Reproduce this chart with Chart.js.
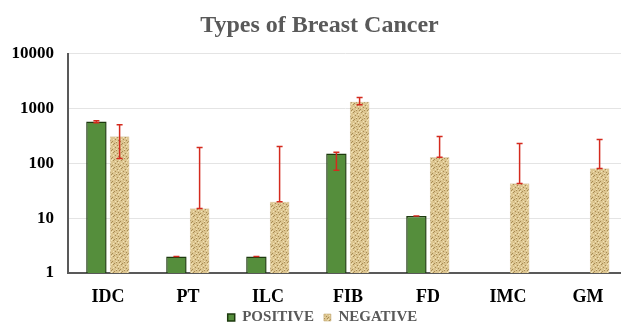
<!DOCTYPE html>
<html>
<head>
<meta charset="utf-8">
<script src="https://cdn.jsdelivr.net/npm/chart.js@4"></script>
<style>
  html, body { margin: 0; padding: 0; background: #fff; }
  #wrap { width: 621px; height: 324px; }
</style>
</head>
<body>
<div id="wrap"><canvas id="chart" width="621" height="324"></canvas></div>
<script>
// Data
const categories = ['IDC', 'PT', 'ILC', 'FIB', 'FD', 'IMC', 'GM'];
const positive = [580, 2, 2, 152, 11, null, null];
const positiveLow = [550, 2, 2, 75, 11, null, null];
const positiveHigh = [600, 2, 2, 160, 11, null, null];
const negative = [310, 15, 20, 1340, 129, 43, 81];
const negativeLow = [123, 15, 20, 1180, 129, 43, 81];
const negativeHigh = [510, 195, 204, 1590, 310, 230, 274];
const yTicks = [1, 10, 100, 1000, 10000];

const serif = '"Liberation Serif", "DejaVu Serif", serif';

// tan speckled texture for the negative bars
function makeTexture() {
  const c = document.createElement('canvas');
  c.width = 8; c.height = 8;
  const g = c.getContext('2d');
  g.fillStyle = '#dcc590';
  g.fillRect(0, 0, 8, 8);
  g.fillStyle = '#a88c55';
  [[1,0],[5,1],[3,3],[0,5],[6,4],[2,7],[7,6],[4,6]].forEach(p => g.fillRect(p[0], p[1], 1, 1));
  g.fillStyle = '#f3e4b8';
  [[3,1],[6,2],[1,3],[4,5],[0,7],[7,0]].forEach(p => g.fillRect(p[0], p[1], 1, 1));
  return g.createPattern(c, 'repeat');
}

const errorBars = {
  id: 'errorBars',
  afterDatasetsDraw(chart) {
    const ctx = chart.ctx;
    const y = chart.scales.y;
    const ranges = [[positiveLow, positiveHigh], [negativeLow, negativeHigh]];
    ctx.save();
    ctx.strokeStyle = '#d42a1e';
    ctx.lineWidth = 1.5;
    chart.data.datasets.forEach((ds, i) => {
      const meta = chart.getDatasetMeta(i);
      meta.data.forEach((bar, j) => {
        const lo = ranges[i][0][j], hi = ranges[i][1][j];
        if (lo == null) return;
        const y1 = y.getPixelForValue(lo), y2 = y.getPixelForValue(hi);
        ctx.beginPath();
        ctx.moveTo(bar.x, y1); ctx.lineTo(bar.x, y2);
        ctx.moveTo(bar.x - 3, y1); ctx.lineTo(bar.x + 3, y1);
        ctx.moveTo(bar.x - 3, y2); ctx.lineTo(bar.x + 3, y2);
        ctx.stroke();
      });
    });
    ctx.restore();
  }
};

// nudge title / legend, let x labels draw below their box, run the plot a bit past the right edge
const shiftBlocks = {
  id: 'shiftBlocks',
  afterLayout(chart) {
    chart.titleBlock.left += 18;
    chart.legend.left += 24;
    chart.legend.top += 11;
    const x = chart.scales.x;
    x.right += 7;
    x.configure();
    x.bottom = chart.height;
    chart.chartArea.right += 7;
  }
};

const ctx = document.getElementById('chart').getContext('2d');
new Chart(ctx, {
  type: 'bar',
  data: {
    labels: categories,
    datasets: [
      {
        label: 'POSITIVE',
        data: positive,
        backgroundColor: '#558e3c',
        borderColor: '#1d3a0e',
        borderWidth: 1.5,
        barPercentage: 0.88,
        categoryPercentage: 0.58
      },
      {
        label: 'NEGATIVE',
        data: negative,
        backgroundColor: makeTexture(),
        borderColor: '#b89c62',
        borderWidth: 0.5,
        barPercentage: 0.84,
        categoryPercentage: 0.58
      }
    ]
  },
  options: {
    responsive: false,
    animation: false,
    layout: { padding: 0 },
    plugins: {
      title: {
        display: true,
        text: 'Types of Breast Cancer',
        color: '#595959',
        font: { family: serif, size: 24, weight: 'bold' },
        padding: { top: 11, bottom: 14 }
      },
      legend: {
        position: 'bottom',
        labels: {
          color: '#595959',
          font: { family: serif, size: 15, weight: 'bold' },
          boxWidth: 7,
          boxHeight: 7,
          padding: 10
        }
      },
      tooltip: { enabled: false }
    },
    scales: {
      x: {
        grid: { display: false, drawTicks: false },
        border: { color: '#595959', width: 2 },
        afterFit(scale) { scale.height = 16; },
        ticks: {
          color: '#000',
          font: { family: serif, size: 18, weight: 'bold' },
          padding: 14
        }
      },
      y: {
        type: 'logarithmic',
        min: 1,
        max: 10000,
        afterBuildTicks(scale) {
          scale.ticks = yTicks.map(v => ({ value: v }));
        },
        afterFit(scale) { scale.width = 68; },
        grid: { color: '#e4e4e4', drawTicks: false },
        border: { color: '#595959', width: 2 },
        ticks: {
          color: '#000',
          font: { family: serif, size: 17, weight: 'bold' },
          padding: 14,
          callback: v => String(v)
        }
      }
    }
  },
  plugins: [errorBars, shiftBlocks]
});
</script>
</body>
</html>
